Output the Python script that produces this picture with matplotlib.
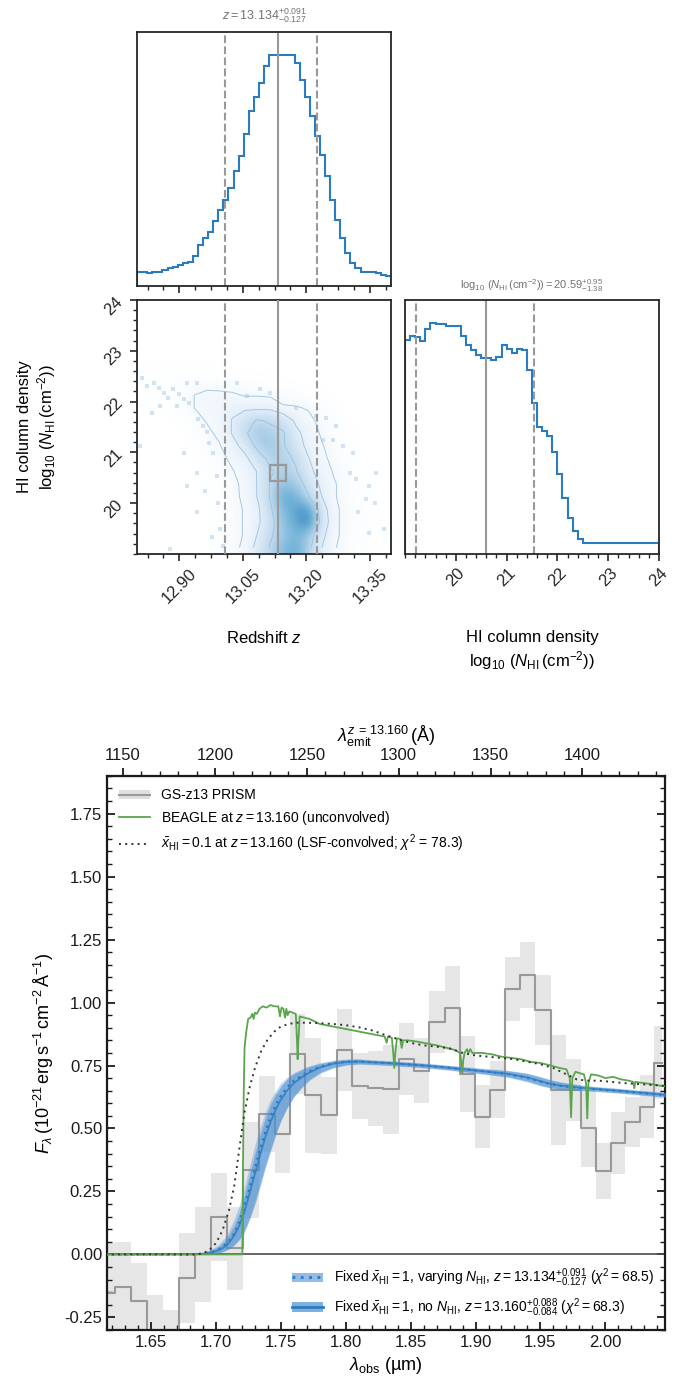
import numpy as np
import matplotlib
matplotlib.use("Agg")
import matplotlib.pyplot as plt
from matplotlib.ticker import AutoMinorLocator, MultipleLocator, FormatStrFormatter
from matplotlib.colors import LinearSegmentedColormap
from matplotlib.patches import Patch
from matplotlib.lines import Line2D

plt.rcParams["font.family"] = ["Liberation Sans", "DejaVu Sans"]
plt.rcParams["mathtext.fontset"] = "custom"
plt.rcParams["mathtext.rm"] = "Liberation Sans"
plt.rcParams["mathtext.it"] = "Liberation Sans:italic"
plt.rcParams["mathtext.bf"] = "Liberation Sans:bold"

# ---- posterior of redshift (histogram heights, 50 bins over 12.8-13.4)
z_range = (12.8, 13.4)
z_hist = [43, 43, 38, 43, 43, 48, 53, 56, 63, 68, 71, 90, 123, 146, 163,
          195, 230, 260, 295, 346, 393, 458, 528, 571, 611, 662, 696, 696,
          696, 696, 696, 671, 620, 570, 511, 453, 396, 331, 258, 198, 146,
          98, 70, 55, 43, 43, 43, 38, 33, 30]
z_q = [13.007, 13.134, 13.225]

# ---- posterior of log N_HI (50 bins over 19-24)
n_range = (19.0, 24.0)
n_hist = [648, 660, 655, 645, 681, 698, 695, 695, 690, 690, 690, 658, 631,
          616, 601, 591, 591, 585, 595, 631, 620, 608, 620, 615, 556, 455,
          383, 373, 355, 308, 241, 168, 108, 68, 45, 33, 33, 33, 33, 33, 33,
          33, 33, 33, 33, 33, 33, 33, 33, 33]
n_q = [19.21, 20.59, 21.54]

# ---- joint density (rows: log N_HI 19.125 .. 23.875, cols: z 12.815 .. 13.385)
joint = [
    [0, 0, 0, 0, 0, 0, 0.3, 0.5, 1.2, 3, 5, 7, 8, 5.5, 2.5, 1.0, 0.5, 0.3, 0, 0],
    [0, 0, 0, 0, 0, 0, 0.3, 0.5, 1.0, 2.5, 4.5, 6, 7.5, 6, 3, 1.2, 0.5, 0.3, 0.2, 0.2],
    [0, 0, 0, 0, 0, 0, 0.3, 0.5, 1.0, 2, 4, 6.5, 8, 10, 4, 1.2, 0.5, 0.3, 0.2, 0],
    [0, 0, 0, 0, 0, 0, 0.2, 0.5, 1.0, 2, 4.5, 7, 8.5, 9, 3.5, 1.2, 0.5, 0.3, 0, 0],
    [0, 0, 0, 0, 0, 0, 0.2, 0.5, 1.2, 2.5, 5, 8, 7.5, 5, 2.5, 1.0, 0.5, 0.3, 0, 0],
    [0, 0, 0, 0, 0, 0, 0.2, 0.6, 1.2, 2.5, 5, 6.5, 6, 4, 2, 1.0, 0.5, 0.2, 0, 0],
    [0, 0, 0, 0, 0, 0, 0.3, 0.8, 1.5, 2.5, 4.5, 5.5, 5, 3, 1.5, 0.8, 0.4, 0, 0, 0],
    [0, 0, 0, 0, 0, 0.2, 0.5, 1.2, 2, 3.5, 5.5, 5.5, 4.5, 2.5, 1.2, 0.6, 0.3, 0, 0, 0],
    [0, 0, 0, 0, 0, 0.4, 0.8, 1.8, 3, 5.5, 6, 5, 3.5, 1.8, 1.0, 0.5, 0.3, 0, 0, 0],
    [0, 0, 0, 0, 0.2, 0.6, 1.2, 2.5, 4.5, 6, 5.5, 5, 3, 1.5, 0.8, 0.4, 0.2, 0, 0, 0],
    [0, 0, 0, 0.1, 0.4, 1.0, 1.2, 2.5, 4, 5, 4.5, 4, 2, 1.2, 0.6, 0.3, 0, 0, 0, 0],
    [0.1, 0.1, 0.1, 0.2, 0.9, 1.2, 1.3, 2, 2, 2, 2, 1, 1, 0.8, 0.3, 0.2, 0, 0, 0, 0],
    [0.1, 0.2, 0.2, 0.3, 0.9, 1.2, 1.2, 1.1, 0.8, 0.8, 0.7, 0.6, 0.3, 0.2, 0.1, 0, 0, 0, 0, 0],
    [0.1, 0.1, 0.2, 0.2, 0.3, 0.4, 0.3, 0.2, 0.2, 0.2, 0.1, 0, 0, 0, 0, 0, 0, 0, 0, 0],
    [0.1, 0.1, 0.1, 0.1, 0.1, 0.1, 0, 0, 0, 0, 0, 0, 0, 0, 0, 0, 0, 0, 0, 0],
    [0] * 20, [0] * 20, [0] * 20, [0] * 20, [0] * 20,
]
# outlying samples
pts_z = [12.812, 12.824, 12.839, 12.851, 12.863, 12.874, 12.886, 12.898, 12.910,
         12.922, 12.894, 12.855, 12.835, 12.918, 12.941, 12.808, 12.965, 12.957,
         12.945, 12.969, 12.980, 12.910, 12.941, 12.918, 12.961, 12.988, 12.992,
         12.941, 12.996, 12.976, 13.035, 13.059, 13.090, 13.114, 13.176, 13.223,
         13.247, 13.263, 13.286, 13.310, 13.302, 13.318, 13.365, 13.349, 13.341,
         13.361, 13.384, 13.349, 13.321, 13.270, 13.239, 12.878, 13.004]
pts_n = [22.46, 22.30, 22.37, 22.27, 22.17, 22.07, 22.24, 22.14, 22.04, 21.97,
         21.91, 21.91, 21.78, 22.37, 22.37, 21.12, 21.39, 21.52, 21.65, 21.19,
         20.99, 20.99, 20.60, 20.34, 20.24, 20.54, 20.01, 19.82, 19.49, 19.33,
         22.37, 22.10, 22.24, 22.17, 21.88, 21.71, 21.68, 21.25, 21.12, 20.99,
         20.60, 20.47, 20.60, 20.34, 20.08, 20.01, 19.49, 19.42, 19.82, 21.52,
         21.25, 19.10, 19.16]

# ---- NIRSpec PRISM spectrum
wave = [1.6163, 1.6283, 1.6405, 1.6530, 1.6652, 1.6774, 1.6900, 1.7022, 1.7146,
        1.7268, 1.7390, 1.7512, 1.7628, 1.7747, 1.7871, 1.7990, 1.8111, 1.8232,
        1.8348, 1.8466, 1.8586, 1.8704, 1.8822, 1.8938, 1.9054, 1.9169, 1.9285,
        1.9403, 1.9521, 1.9637, 1.9753, 1.9868, 1.9984, 2.0097, 2.0210, 2.0322,
        2.0434]
flux = [-0.153, -0.130, -0.184, -0.36, -0.42, -0.094, 0.0, 0.148, 0.025, 0.336,
        0.558, 0.479, 0.795, 0.631, 0.552, 0.812, 0.669, 0.659, 0.656, 0.776,
        0.730, 0.921, 0.978, 0.717, 0.547, 0.653, 1.053, 1.110, 0.971, 0.653,
        0.653, 0.501, 0.332, 0.444, 0.525, 0.587, 0.762]
flux_err = [0.20, 0.18, 0.15, 0.20, 0.20, 0.18, 0.19, 0.175, 0.165, 0.19, 0.15,
            0.156, 0.16, 0.23, 0.154, 0.162, 0.13, 0.15, 0.176, 0.142, 0.13,
            0.123, 0.168, 0.151, 0.126, 0.113, 0.128, 0.13, 0.14, 0.22, 0.122,
            0.152, 0.11, 0.123, 0.10, 0.125, 0.145]

# ---- BEAGLE model (unconvolved)
beagle_wave = [1.610, 1.7203, 1.7208, 1.7214, 1.7220, 1.7232, 1.7248, 1.7265,
               1.7280, 1.7290, 1.7300, 1.7315, 1.7335, 1.7360, 1.7390, 1.7420,
               1.7450, 1.7480, 1.7493, 1.7505, 1.7520, 1.7532, 1.7542, 1.7552,
               1.7565, 1.7590, 1.7615, 1.7624, 1.7629, 1.7635, 1.7645, 1.7680,
               1.7720, 1.7760, 1.7800, 1.7850, 1.7900, 1.7950, 1.8000, 1.8050,
               1.8100, 1.8150, 1.8200, 1.8250, 1.8300, 1.8315, 1.8325, 1.8355,
               1.8366, 1.8374, 1.8382, 1.8394, 1.8420, 1.8431, 1.8442, 1.8480,
               1.8550, 1.8620, 1.8700, 1.8780, 1.8850, 1.8880, 1.8891, 1.8898,
               1.8905, 1.8915, 1.8935, 1.8945, 1.8960, 1.8975, 1.8990, 1.9050,
               1.9120, 1.9200, 1.9280, 1.9350, 1.9420, 1.9500, 1.9580, 1.9650,
               1.9700, 1.9726, 1.9736, 1.9746, 1.9770, 1.9800, 1.9835, 1.9852,
               1.9861, 1.9870, 1.9890, 1.9950, 2.0000, 2.0060, 2.0120, 2.0180,
               2.0215, 2.0223, 2.0232, 2.0300, 2.0370, 2.0420, 2.0500]
beagle_flux = [0.0, 0.0, 0.35, 0.65, 0.82, 0.88, 0.935, 0.94, 0.955, 0.935,
               0.96, 0.955, 0.975, 0.985, 0.98, 0.99, 0.985, 0.985, 0.945, 0.98,
               0.975, 0.94, 0.975, 0.95, 0.965, 0.96, 0.955, 0.85, 0.775, 0.85,
               0.945, 0.94, 0.935, 0.925, 0.915, 0.91, 0.905, 0.90, 0.895, 0.89,
               0.885, 0.88, 0.875, 0.87, 0.865, 0.84, 0.865, 0.86, 0.80, 0.74,
               0.80, 0.858, 0.855, 0.82, 0.85, 0.85, 0.845, 0.838, 0.83, 0.82,
               0.81, 0.80, 0.76, 0.72, 0.77, 0.80, 0.815, 0.80, 0.815, 0.80,
               0.80, 0.80, 0.795, 0.785, 0.78, 0.775, 0.765, 0.76, 0.75, 0.74,
               0.735, 0.70, 0.545, 0.70, 0.725, 0.72, 0.715, 0.68, 0.54, 0.68,
               0.715, 0.71, 0.70, 0.705, 0.695, 0.69, 0.685, 0.66, 0.685, 0.68,
               0.675, 0.67, 0.665]

# ---- x_HI = 0.1 model (LSF-convolved)
lsf_wave = [1.610, 1.685, 1.690, 1.695, 1.700, 1.705, 1.710, 1.714, 1.718,
            1.722, 1.726, 1.730, 1.735, 1.740, 1.745, 1.750, 1.756, 1.762,
            1.770, 1.780, 1.790, 1.800, 1.810, 1.820, 1.830, 1.840, 1.850,
            1.860, 1.870, 1.880, 1.890, 1.900, 1.910, 1.920, 1.930, 1.940,
            1.950, 1.960, 1.970, 1.978, 1.986, 1.995, 2.005, 2.015, 2.030, 2.050]
lsf_flux = [0.0, 0.0, 0.004, 0.018, 0.045, 0.095, 0.175, 0.27, 0.42, 0.565,
            0.665, 0.74, 0.81, 0.855, 0.885, 0.905, 0.915, 0.92, 0.92, 0.918,
            0.915, 0.91, 0.902, 0.89, 0.872, 0.855, 0.84, 0.83, 0.825, 0.818,
            0.80, 0.79, 0.785, 0.78, 0.775, 0.765, 0.755, 0.74, 0.715, 0.695,
            0.69, 0.69, 0.685, 0.68, 0.675, 0.668]

# ---- fixed x_HI = 1 fits (median and 16-84% band)
fit_wave = [1.610, 1.680, 1.690, 1.697, 1.702, 1.706, 1.710, 1.714, 1.718, 1.722,
            1.726, 1.730, 1.734, 1.738, 1.742, 1.746, 1.750, 1.755, 1.760, 1.766,
            1.772, 1.780, 1.790, 1.800, 1.810, 1.820, 1.835, 1.850, 1.865, 1.880,
            1.895, 1.910, 1.925, 1.940, 1.950, 1.958, 1.966, 1.975, 1.985, 1.995,
            2.010, 2.025, 2.050]
nhi_flux = [0, 0, 0.003, 0.01, 0.02, 0.034, 0.054, 0.082, 0.13, 0.195,
            0.265, 0.342, 0.418, 0.487, 0.545, 0.593, 0.63, 0.665, 0.69, 0.71,
            0.727, 0.745, 0.759, 0.765, 0.766, 0.763, 0.759, 0.754, 0.748, 0.741,
            0.733, 0.725, 0.716, 0.700, 0.686, 0.676, 0.669, 0.664, 0.659, 0.655,
            0.649, 0.642, 0.631]
nhi_lo = [0, 0, 0, 0.002, 0.006, 0.013, 0.024, 0.04, 0.063, 0.10,
          0.15, 0.215, 0.285, 0.355, 0.42, 0.48, 0.535, 0.585, 0.625, 0.66,
          0.69, 0.718, 0.739, 0.751, 0.755, 0.753, 0.749, 0.744, 0.738, 0.731,
          0.722, 0.713, 0.703, 0.685, 0.669, 0.660, 0.655, 0.652, 0.649, 0.646,
          0.640, 0.633, 0.622]
nhi_hi = [0, 0.001, 0.008, 0.022, 0.04, 0.062, 0.095, 0.14, 0.195, 0.27,
          0.355, 0.435, 0.505, 0.565, 0.615, 0.65, 0.68, 0.705, 0.722, 0.737,
          0.749, 0.761, 0.771, 0.776, 0.777, 0.773, 0.769, 0.764, 0.758, 0.751,
          0.744, 0.737, 0.731, 0.72, 0.706, 0.694, 0.685, 0.678, 0.671, 0.666,
          0.66, 0.653, 0.642]
igm_flux = [0, 0, 0.002, 0.008, 0.016, 0.028, 0.046, 0.075, 0.115, 0.17,
            0.245, 0.32, 0.395, 0.465, 0.525, 0.575, 0.615, 0.652, 0.68, 0.703,
            0.722, 0.742, 0.757, 0.764, 0.766, 0.763, 0.759, 0.754, 0.748, 0.741,
            0.733, 0.725, 0.717, 0.703, 0.688, 0.677, 0.670, 0.665, 0.660, 0.656,
            0.650, 0.643, 0.632]
igm_lo = [0, 0, 0, 0.002, 0.006, 0.012, 0.022, 0.036, 0.058, 0.09,
          0.14, 0.20, 0.27, 0.345, 0.41, 0.475, 0.53, 0.585, 0.627, 0.665,
          0.695, 0.722, 0.742, 0.753, 0.757, 0.755, 0.751, 0.746, 0.740, 0.733,
          0.724, 0.715, 0.705, 0.688, 0.672, 0.662, 0.657, 0.654, 0.651, 0.648,
          0.642, 0.635, 0.624]
igm_hi = [0, 0.001, 0.006, 0.018, 0.032, 0.05, 0.078, 0.115, 0.165, 0.235,
          0.32, 0.40, 0.475, 0.54, 0.595, 0.635, 0.668, 0.697, 0.717, 0.733,
          0.746, 0.758, 0.768, 0.774, 0.775, 0.771, 0.767, 0.762, 0.756, 0.749,
          0.742, 0.735, 0.729, 0.718, 0.704, 0.692, 0.683, 0.676, 0.669, 0.664,
          0.658, 0.651, 0.640]

z_sys = 13.160

blue = "#2a7bbf"
band = "#4a8fd4"
qcol = "0.6"

fig = plt.figure(figsize=(6.97, 13.89), dpi=100)
ax_z = fig.add_axes([0.1966, 0.7941, 0.3644, 0.1829])
ax_2d = fig.add_axes([0.1966, 0.6012, 0.3644, 0.1829])
ax_n = fig.add_axes([0.5811, 0.6012, 0.3644, 0.1829])
ax = fig.add_axes([0.1535, 0.0425, 0.8006, 0.3989])


def corner_style(a):
    for s in a.spines.values():
        s.set_linewidth(1.3)
        s.set_color("0.15")
    a.tick_params(which="major", direction="out", length=5, width=1.2,
                  labelsize=12, colors="0.15")
    a.tick_params(which="minor", direction="out", length=3, width=1.0,
                  colors="0.15")


# top: redshift marginal
z_edges = np.linspace(z_range[0], z_range[1], len(z_hist) + 1)
ax_z.stairs(z_hist, z_edges, color=blue, lw=1.5)
for q, ls in zip(z_q, ["--", "-", "--"]):
    ax_z.axvline(q, color=qcol, ls=ls, lw=1.5)
ax_z.set_xlim(*z_range)
ax_z.set_ylim(0, 1.1 * max(z_hist))
ax_z.set_yticks([])
ax_z.xaxis.set_major_locator(MultipleLocator(0.15))
ax_z.xaxis.set_minor_locator(AutoMinorLocator())
ax_z.set_xticklabels([])
corner_style(ax_z)
ax_z.set_title(r"$z = 13.134^{+0.091}_{-0.127}$", fontsize=9, color="0.45", pad=9)

# joint panel
blues = plt.get_cmap("Blues")
wblue = LinearSegmentedColormap.from_list(
    "wblue", ["#ffffff", blues(0.1), blues(0.28), blues(0.48), blues(0.68), blues(0.82)])
zc = np.linspace(z_range[0], z_range[1], 21)
nc = np.linspace(n_range[0], n_range[1], 21)
zmid = 0.5 * (zc[1:] + zc[:-1])
nmid = 0.5 * (nc[1:] + nc[:-1])
jd = np.array(joint)
ax_2d.scatter(pts_z, pts_n, s=8, marker="s", color="#a8cbe8", alpha=0.5, lw=0,
              zorder=3)
ax_2d.imshow(jd, origin="lower", extent=(*z_range, *n_range), aspect="auto",
             cmap=wblue, vmin=0, vmax=12.5, interpolation="bicubic", zorder=2)
ax_2d.contour(zmid, nmid, jd, levels=[0.9, 2.4, 4.8], colors="#9cc3e3",
              linewidths=0.7, alpha=0.9, zorder=3)
for q, ls in zip(z_q, ["--", "-", "--"]):
    ax_2d.axvline(q, color=qcol, ls=ls, lw=1.5, zorder=4)
ax_2d.plot([z_q[1]], [n_q[1]], marker="s", ms=11, mfc="none", mec=qcol, mew=1.6,
           zorder=5)
ax_2d.set_xlim(*z_range)
ax_2d.set_ylim(*n_range)
ax_2d.xaxis.set_minor_locator(AutoMinorLocator(4))
ax_2d.yaxis.set_minor_locator(AutoMinorLocator(5))
corner_style(ax_2d)
ax_2d.set_xticks([12.90, 13.05, 13.20, 13.35])
ax_2d.set_xticklabels(["12.90", "13.05", "13.20", "13.35"], rotation=45)
ax_2d.set_yticks([20, 21, 22, 23, 24])
ax_2d.set_yticklabels(["20", "21", "22", "23", "24"], rotation=45)
ax_2d.set_xlabel(r"Redshift $z$", fontsize=12)
ax_2d.xaxis.set_label_coords(0.5, -0.30)
ax_2d.set_ylabel("HI column density\n" + r"$\log_{10}\,(N_{\rm HI}\,(\rm cm^{-2}))$",
                 fontsize=12)
ax_2d.yaxis.set_label_coords(-0.31, 0.5)

# right: N_HI marginal
n_edges = np.linspace(n_range[0], n_range[1], len(n_hist) + 1)
ax_n.stairs(n_hist, n_edges, color=blue, lw=1.5)
for q, ls in zip(n_q, ["--", "-", "--"]):
    ax_n.axvline(q, color=qcol, ls=ls, lw=1.5)
ax_n.set_xlim(*n_range)
ax_n.set_ylim(0, 1.1 * max(n_hist))
ax_n.set_yticks([])
ax_n.xaxis.set_minor_locator(AutoMinorLocator(5))
corner_style(ax_n)
ax_n.set_xticks([20, 21, 22, 23, 24])
ax_n.set_xticklabels(["20", "21", "22", "23", "24"], rotation=45)
ax_n.set_xlabel("HI column density\n" + r"$\log_{10}\,(N_{\rm HI}\,(\rm cm^{-2}))$",
                fontsize=12)
ax_n.xaxis.set_label_coords(0.5, -0.30)
ax_n.set_title(r"$\log_{10}\,(N_{\rm HI}\,(\rm cm^{-2})) = 20.59^{+0.95}_{-1.38}$",
               fontsize=8, color="0.45", pad=8)

# ---- spectrum panel
wave = np.array(wave)
flux = np.array(flux)
flux_err = np.array(flux_err)
ax.fill_between(wave, flux - flux_err, flux + flux_err, step="mid",
                color="0.9", lw=0, zorder=1)
ax.step(wave, flux, where="mid", color="0.6", lw=1.5, zorder=2)
ax.axhline(0, color="0.3", lw=1.2, zorder=2.5)
ax.plot(beagle_wave, beagle_flux, color="#5aa64c", lw=1.3, zorder=4)
ax.plot(lsf_wave, lsf_flux, color="0.2", ls=(0, (1, 2.2)), lw=1.4, zorder=4)
ax.fill_between(fit_wave, nhi_lo, nhi_hi, color=band, alpha=0.35, lw=0, zorder=3)
ax.fill_between(fit_wave, igm_lo, igm_hi, color=band, alpha=0.55, lw=0, zorder=3)
ax.plot(fit_wave, nhi_flux, color=blue, ls=(0, (1, 2)), lw=1.6, zorder=3.5)
ax.plot(fit_wave, igm_flux, color=blue, lw=1.3, alpha=0.8, zorder=3.5)

ax.set_xlim(1.616, 2.046)
ax.set_ylim(-0.3, 1.9)
ax.xaxis.set_major_locator(MultipleLocator(0.05))
ax.xaxis.set_minor_locator(MultipleLocator(0.01))
ax.yaxis.set_major_locator(MultipleLocator(0.25))
ax.yaxis.set_minor_locator(MultipleLocator(0.05))
ax.xaxis.set_major_formatter(FormatStrFormatter("%.2f"))
ax.yaxis.set_major_formatter(FormatStrFormatter("%.2f"))
for s in ax.spines.values():
    s.set_linewidth(1.6)
    s.set_color("0.1")
ax.tick_params(which="both", direction="in", top=False, right=True,
               colors="0.1", labelsize=12)
ax.tick_params(which="major", length=6, width=1.3)
ax.tick_params(which="minor", length=3.5, width=1.0)
ax.set_xlabel(r"$\lambda_{\rm obs}$ (µm)", fontsize=13, labelpad=4)
ax.set_ylabel(r"$F_{\lambda}\,(10^{-21}\,{\rm erg\,s^{-1}\,cm^{-2}\,\AA^{-1}})$",
              fontsize=13, labelpad=6)

secax = ax.secondary_xaxis(
    "top", functions=(lambda w: w * 1e4 / (1 + z_sys),
                      lambda l: l * (1 + z_sys) / 1e4))
secax.xaxis.set_major_locator(MultipleLocator(50))
secax.xaxis.set_minor_locator(MultipleLocator(10))
secax.tick_params(which="both", direction="out", colors="0.1", labelsize=12)
secax.tick_params(which="major", length=6, width=1.3)
secax.tick_params(which="minor", length=3.5, width=1.0)
secax.set_xlabel(r"$\lambda_{\rm emit}^{z\,=\,13.160}\,(\rm\AA)$", fontsize=13,
                 labelpad=4)

h1 = [(Patch(facecolor="0.88", edgecolor="none"), Line2D([], [], color="0.6", lw=1.5)),
      Line2D([], [], color="#5aa64c", lw=1.3),
      Line2D([], [], color="0.2", ls=(0, (1, 2.2)), lw=1.4)]
l1 = [r"GS-z13 PRISM",
      r"BEAGLE at $z = 13.160$ (unconvolved)",
      r"$\bar{x}_{\rm HI} = 0.1$ at $z = 13.160$ (LSF-convolved; $\chi^2$ = 78.3)"]
leg1 = ax.legend(h1, l1, loc="upper left", frameon=False, fontsize=10,
                 handlelength=2.2, borderaxespad=0.5, labelspacing=0.45)
ax.add_artist(leg1)

h2 = [(Patch(facecolor=band, alpha=0.6, edgecolor="none"),
       Line2D([], [], color=blue, ls=(0, (1, 2)), lw=2)),
      (Patch(facecolor=band, alpha=0.7, edgecolor="none"),
       Line2D([], [], color=blue, lw=2))]
l2 = [r"Fixed $\bar{x}_{\rm HI} = 1$, varying $N_{\rm HI}$, $z = 13.134^{+0.091}_{-0.127}$ ($\chi^2 = 68.5$)",
      r"Fixed $\bar{x}_{\rm HI} = 1$, no $N_{\rm HI}$, $z = 13.160^{+0.088}_{-0.084}$ ($\chi^2 = 68.3$)"]
ax.legend(h2, l2, loc="lower right", frameon=False, fontsize=10,
          handlelength=2.2, borderaxespad=0.4, labelspacing=0.5)

fig.savefig("out.png", dpi=100)
